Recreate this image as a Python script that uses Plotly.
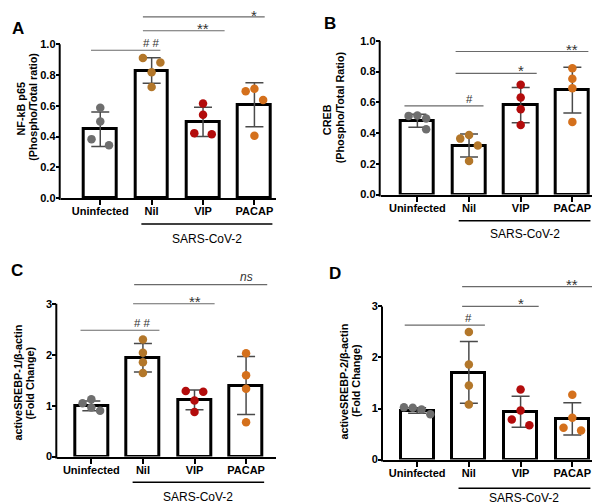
import plotly.graph_objects as go

W, H = 600, 504
FONT = "Liberation Sans, Arial, sans-serif"

# ---------------- data ----------------
groups = ["Uninfected", "Nil", "VIP", "PACAP"]
group_colors = ["#6e6e6e", "#b3772a", "#b30c0c", "#d4701c"]
infection_label = "SARS-CoV-2"

a_title = ["NF-kB p65", "(Phospho/Total ratio)"]
a_means = [0.447, 0.829, 0.495, 0.606]
a_sds = [0.112, 0.083, 0.095, 0.143]
a_points = [[0.587, 0.497, 0.383, 0.343],
            [0.910, 0.882, 0.818, 0.722],
            [0.614, 0.542, 0.422, 0.415],
            [0.711, 0.694, 0.638, 0.405]]
a_ticks = [0.0, 0.2, 0.4, 0.6, 0.8, 1.0]
a_tick_labels = ["0.0", "0.2", "0.4", "0.6", "0.8", "1.0"]
a_sig = [(0, 1, "# #"), (1, 2, "**"), (1, 3, "*")]

b_title = ["CREB", "(Phospho/Total Ratio)"]
b_means = [0.480, 0.319, 0.582, 0.679]
b_sds = [0.042, 0.075, 0.115, 0.149]
b_points = [[0.512, 0.515, 0.495, 0.425],
            [0.388, 0.364, 0.319, 0.218],
            [0.715, 0.632, 0.555, 0.452],
            [0.822, 0.754, 0.692, 0.473]]
b_ticks = [0.0, 0.2, 0.4, 0.6, 0.8, 1.0]
b_tick_labels = ["0.0", "0.2", "0.4", "0.6", "0.8", "1.0"]
b_sig = [(0, 1, "#"), (1, 2, "*"), (1, 3, "**")]

c_title = ["activeSREBP-1/β-actin", "(Fold Change)"]
c_means = [0.995, 1.940, 1.112, 1.396]
c_sds = [0.097, 0.280, 0.195, 0.570]
c_points = [[1.047, 1.125, 0.963, 0.899],
            [2.300, 2.040, 1.850, 1.640],
            [1.286, 1.273, 1.099, 0.873],
            [2.030, 1.597, 1.330, 0.672]]
c_ticks = [0, 1, 2, 3]
c_tick_labels = ["0", "1", "2", "3"]
c_sig = [(0, 1, "# #"), (1, 2, "**"), (1, 3, "ns")]

d_title = ["activeSREBP-2/β-actin", "(Fold Change)"]
d_means = [0.961, 1.706, 0.935, 0.797]
d_sds = [0.056, 0.605, 0.304, 0.317]
d_points = [[1.026, 1.013, 0.980, 0.889],
            [2.497, 1.863, 1.451, 1.078],
            [1.373, 0.961, 0.784, 0.673],
            [1.268, 0.817, 0.621, 0.569]]
d_ticks = [0, 1, 2, 3]
d_tick_labels = ["0", "1", "2", "3"]
d_sig = [(0, 1, "#"), (1, 2, "*"), (1, 3, "**")]

# ---------------- styling / layout geometry (pixels) ----------------
JIT = 0.17  # horizontal jitter step in category units
a_jitter = [[0, 0, -1, 1], [-1, 1, 0, 0], [0, 0, -1, 1], [0, -1, 1, 0]]
b_jitter = [[-1, 0, 1, 1], [0, -1, 1, 0], [0, 0, 0, 0], [0, 0, 0, 0]]
c_jitter = [[-1, 0, 0, 1], [0, 0, 0, 0], [-1, 1, 0, 0], [0, 0, 0, 0]]
d_jitter = [[-1.5, -0.5, 0.5, 1.5], [0, 0, 0, 0], [0, 0, -1, 1], [0, 0, -1, 1]]

# sig_style: (line height in data units, left pad, right pad, label y-shift px)
panels = [
    dict(letter="A", title=a_title, means=a_means, sds=a_sds, points=a_points, jitter=a_jitter,
         ticks=a_ticks, labels=a_tick_labels, sig=a_sig,
         left=52.7, right=268, y0=192.3, tickpx=36.7, top=0, xr=[-0.77, 3.42],
         sig_style=[(0.961, -0.18, 0.17, -1), (1.088, -0.17, 0.42, -8), (1.178, -0.17, 0.20, -9.5)],
         bracket_y=218.5, bracket_text_y=234,
         title_pos=[(12.7, 102), (25, 100)], letter_xy=(9.5, 21)),
    dict(letter="B", title=b_title, means=b_means, sds=b_sds, points=b_points, jitter=b_jitter,
         ticks=b_ticks, labels=b_tick_labels, sig=b_sig,
         left=372.7, right=600, y0=188.8, tickpx=33.3, top=0, xr=[-0.71, 3.69],
         sig_style=[(0.577, -0.25, 0.28, -1), (0.789, -0.26, 0.31, -8), (0.931, -0.26, 0.31, -8)],
         bracket_y=215.3, bracket_text_y=229,
         title_pos=[(318.5, 113), (331.5, 101)], letter_xy=(322, 16)),
    dict(letter="C", title=c_title, means=c_means, sds=c_sds, points=c_points, jitter=c_jitter,
         ticks=c_ticks, labels=c_tick_labels, sig=c_sig,
         left=49.3, right=268, y0=454, tickpx=299.3, top=262, xr=[-0.66, 3.58],
         sig_style=[(2.48, -0.21, 0.32, -1), (3.0, -0.19, 0.39, -8), (3.374, -0.17, 0.41, -1)],
         bracket_y=480, bracket_text_y=495,
         title_pos=[(10, 379), (22, 380)], letter_xy=(9, 266)),
    dict(letter="D", title=d_title, means=d_means, sds=d_sds, points=d_points, jitter=d_jitter,
         ticks=d_ticks, labels=d_tick_labels, sig=d_sig,
         left=375, right=600, y0=457, tickpx=302, top=262, xr=[-0.66, 3.69],
         sig_style=[(2.635, -0.24, 0.31, -1), (3.0, -0.13, 0.35, -8), (3.387, -0.13, 0.42, -8)],
         bracket_y=486, bracket_text_y=495.5,
         title_pos=[(335, 378), (348, 377.5)], letter_xy=(327, 269)),
]


def py(ypx):
    return 1 - ypx / H


def px(xpx):
    return xpx / W


fig = go.Figure()
shapes = []
annotations = []
layout_axes = {}

for i, p in enumerate(panels, start=1):
    xa = "x" if i == 1 else f"x{i}"
    ya = "y" if i == 1 else f"y{i}"
    xkey = "xaxis" if i == 1 else f"xaxis{i}"
    ykey = "yaxis" if i == 1 else f"yaxis{i}"
    xs = list(range(len(groups)))

    fig.add_trace(go.Bar(
        x=xs, y=p["means"], width=0.64, xaxis=xa, yaxis=ya,
        marker=dict(color="white", line=dict(color="black", width=3)),
        error_y=dict(type="data", array=p["sds"], visible=True, color="#4a4a4a",
                     thickness=1.5, width=9),
        showlegend=False, hoverinfo="skip"))

    for g, (vals, jits) in enumerate(zip(p["points"], p["jitter"])):
        fig.add_trace(go.Scatter(
            x=[g + j * JIT for j in jits], y=vals, mode="markers", xaxis=xa, yaxis=ya,
            marker=dict(size=8.5, color=group_colors[g], line=dict(width=0)),
            showlegend=False, hoverinfo="skip"))

    top_tick = p["ticks"][-1]
    yrange_top = top_tick * (p["y0"] - p["top"]) / (p["y0"] - p["tickpx"])
    ydom = [py(p["y0"]), py(p["top"])]

    tickfont = dict(family=FONT, size=11, color="black", weight=700)
    layout_axes[xkey] = dict(
        domain=[px(p["left"]), px(p["right"])], range=p["xr"], anchor=ya,
        tickmode="array", tickvals=xs, ticktext=groups,
        showline=True, linecolor="black", linewidth=2,
        ticks="outside", ticklen=5, tickwidth=1.5, tickcolor="black", ticklabelstandoff=-3,
        showgrid=False, zeroline=False, tickfont=tickfont, fixedrange=True)
    layout_axes[ykey] = dict(
        domain=ydom, range=[0, yrange_top], anchor=xa,
        tickmode="array", tickvals=p["ticks"], ticktext=p["labels"],
        showline=False, ticks="outside", ticklen=4, tickwidth=1.5, tickcolor="black",
        ticklabelstandoff=-2,
        showgrid=False, zeroline=False, tickfont=tickfont, fixedrange=True)

    # y axis line, only from 0 to the top tick
    frac = top_tick / yrange_top
    shapes.append(dict(type="line", xref="paper", yref="paper",
                       x0=px(p["left"] - 1), x1=px(p["left"] - 1),
                       y0=py(p["y0"] + 2), y1=ydom[0] + frac * (ydom[1] - ydom[0]),
                       line=dict(color="black", width=2)))

    # significance brackets
    for (a, b, lab), (yv, o0, o1, ysh) in zip(p["sig"], p["sig_style"]):
        shapes.append(dict(type="line", xref=xa, yref=ya, x0=a + o0, x1=b + o1, y0=yv, y1=yv,
                           line=dict(color="#6a6a6a", width=1.2)))
        if "*" in lab:
            f = dict(family=FONT, size=15, color="#333333")
        elif lab == "ns":
            f = dict(family=FONT, size=12, color="#333333", style="italic")
        else:
            f = dict(family=FONT, size=11.5, color="#333333")
        annotations.append(dict(x=b, y=yv, xref=xa, yref=ya, text=lab, showarrow=False,
                                xanchor="center", yanchor="bottom", yshift=ysh, font=f))

    # SARS-CoV-2 bracket
    shapes.append(dict(type="line", xref=xa, yref="paper", x0=1 - 0.2, x1=3 + 0.35,
                       y0=py(p["bracket_y"]), y1=py(p["bracket_y"]),
                       line=dict(color="black", width=1.5)))
    annotations.append(dict(x=(1 - 0.2 + 3 + 0.35) / 2, y=py(p["bracket_text_y"]), xref=xa,
                            yref="paper", text=infection_label, showarrow=False,
                            xanchor="center", yanchor="middle",
                            font=dict(family=FONT, size=12, color="black")))

    # y title, one annotation per line
    for line_text, (tx, ty) in zip(p["title"], p["title_pos"]):
        annotations.append(dict(x=px(tx), y=py(ty), xref="paper", yref="paper",
                                text=line_text, textangle=-90, showarrow=False,
                                xanchor="center", yanchor="middle",
                                font=dict(family=FONT, size=10.8, color="black", weight=700)))
    # panel letter
    lx, lyy = p["letter_xy"]
    annotations.append(dict(x=px(lx), y=py(lyy), xref="paper", yref="paper",
                            text=p["letter"], showarrow=False, xanchor="center", yanchor="middle",
                            font=dict(family=FONT, size=17, color="black", weight=700)))

fig.update_layout(
    width=W, height=H, margin=dict(l=0, r=0, t=0, b=0),
    paper_bgcolor="white", plot_bgcolor="white",
    shapes=shapes, annotations=annotations, bargap=0, **layout_axes)

fig.write_html("out.html")
